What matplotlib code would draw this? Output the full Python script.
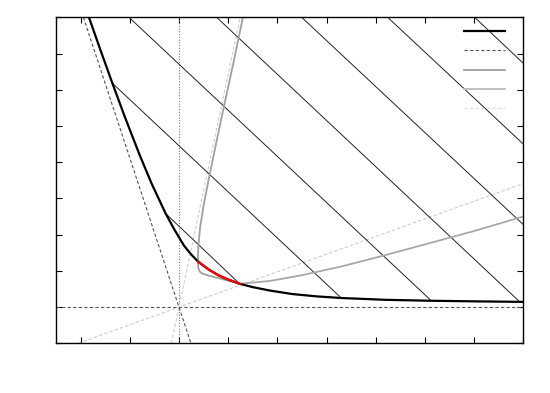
import matplotlib
matplotlib.use("Agg")
import matplotlib.pyplot as plt
from matplotlib.lines import Line2D

# front curve (thick black)
front_x = [-1.83, -1.6, -1.354, -1.1, -0.8, -0.55, -0.27, -0.1, 0.1, 0.25, 0.386, 0.5, 0.6, 0.8, 1.0,
           1.234, 1.5, 1.844, 2.3, 2.8, 3.3, 4.2, 5.13, 6.0, 7.0]
front_y = [8.0, 7.11, 6.18, 5.25, 4.2, 3.39, 2.58, 2.155, 1.7, 1.45, 1.256, 1.14, 1.04, 0.88, 0.76,
           0.643, 0.55, 0.457, 0.36, 0.295, 0.25, 0.2, 0.174, 0.158, 0.143]

# red part of the front
red_x = [0.386, 0.5, 0.6, 0.7, 0.8, 0.9, 1.0, 1.12, 1.234]
red_y = [1.256, 1.14, 1.04, 0.955, 0.88, 0.815, 0.76, 0.70, 0.643]

# gray cone curve (steep branch down to the red end)
cone_x = [1.30, 1.1, 0.9, 0.726, 0.6, 0.5, 0.43, 0.395, 0.385, 0.39, 0.42, 0.48, 0.6, 0.8, 1.0, 1.234]
cone_y = [8.0, 6.7, 5.45, 4.33, 3.5, 2.8, 2.2, 1.7, 1.35, 1.1, 0.98, 0.92, 0.87, 0.8, 0.73, 0.643]

# lighter gray curve from the red end to the right
rise_x = [1.234, 1.844, 2.5, 3.3, 4.1, 5.0, 6.0, 7.0]
rise_y = [0.643, 0.72, 0.88, 1.12, 1.4, 1.73, 2.1, 2.5]

# level lines: start (x, y) and end (x, y)
lev_x0 = [-0.27, -1.354, -1.016, 0.766, 2.494, 4.242, 6.01]
lev_y0 = [2.58, 6.18, 8.0, 8.0, 8.0, 8.0, 8.0]
lev_x1 = [1.234, 3.30, 5.13, 6.925, 7.0, 7.0, 7.0]
lev_y1 = [0.643, 0.25, 0.174, 0.146, 2.276, 4.5, 6.73]

# straight guide lines through the origin
steep_x = [-1.943, 0.243]
steep_y = [8.0, -1.0]
cone_a_x = [-2.05, 7.0]
cone_a_y = [-1.0, 3.41]
cone_b_x = [-0.155, 1.244]
cone_b_y = [-1.0, 8.0]

fig = plt.figure(figsize=(5.5, 3.93), dpi=100)
ax = fig.add_axes([0.1018, 0.1265, 0.8497, 0.8295])
ax.set_xlim(-2.5, 7)
ax.set_ylim(-1, 8)

ax.axhline(0, color="#555555", lw=0.8, ls=(0, (3, 2)))
ax.axvline(0, color="#777777", lw=0.8, ls=(0, (1, 1.5)))
ax.plot(cone_a_x, cone_a_y, color="#cccccc", lw=0.8, ls=(0, (3, 2)))
ax.plot(cone_b_x, cone_b_y, color="#cccccc", lw=0.8, ls=(0, (3, 2)))
ax.plot(steep_x, steep_y, color="#555555", lw=0.8, ls=(0, (3, 2)))

for x0, y0, x1, y1 in zip(lev_x0, lev_y0, lev_x1, lev_y1):
    ax.plot([x0, x1], [y0, y1], color="#222222", lw=0.7)

ax.plot(cone_x, cone_y, color="#a0a0a0", lw=1.3)
ax.plot(rise_x, rise_y, color="#a8a8a8", lw=1.3)
ax.plot(front_x, front_y, color="black", lw=1.6)
ax.plot(red_x, red_y, color="red", lw=1.6)

ax.set_xticks(range(-2, 8))
ax.set_yticks(range(-1, 9))
ax.tick_params(direction="in", length=4, width=0.8, top=True, right=True,
               labelbottom=False, labelleft=False)
for s in ax.spines.values():
    s.set_linewidth(1.0)

handles = [
    Line2D([], [], color="black", lw=1.6),
    Line2D([], [], color="#555555", lw=0.8, ls=(0, (3, 2))),
    Line2D([], [], color="#a0a0a0", lw=1.3),
    Line2D([], [], color="#bbbbbb", lw=1.3),
    Line2D([], [], color="#dddddd", lw=0.8, ls=(0, (3, 2))),
]
ax.legend(handles, [""] * 5, loc="upper right", frameon=False, fontsize=10,
          handlelength=2.95, labelspacing=0.39, handletextpad=0.3,
          bbox_to_anchor=(0.996, 1.016))

fig.savefig("out.png", dpi=100)
